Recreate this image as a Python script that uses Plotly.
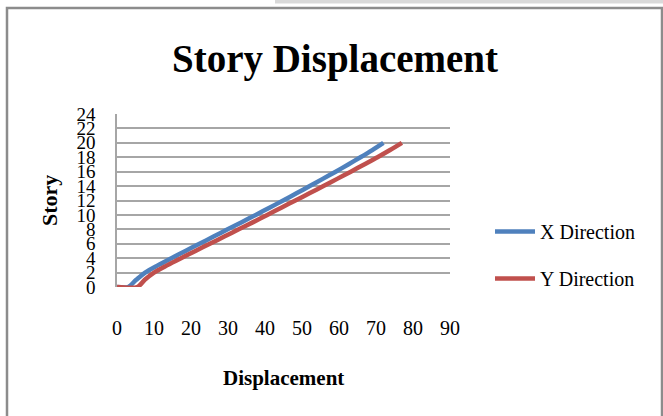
import plotly.graph_objects as go

# Data
story = [0, 0, 1, 2, 3, 4, 5, 6, 7, 8, 9, 10, 11, 12, 13, 14, 15, 16, 17, 18, 19, 20]
x_direction = [0, 3, 5.2, 7.6, 11, 14.7, 18.5, 22.3, 26.1, 29.9, 33.7, 37.5,
               41.2, 44.9, 48.5, 52.1, 55.6, 59.1, 62.5, 65.8, 69, 72]
y_direction = [0, 5.5, 7.5, 10, 13.5, 17.3, 21.2, 25.1, 29, 32.9, 36.8, 40.6,
               44.4, 48.2, 52, 55.8, 59.5, 63.2, 66.8, 70.4, 73.8, 77]
x_ticks = [0, 10, 20, 30, 40, 50, 60, 70, 80, 90]
y_ticks = [0, 2, 4, 6, 8, 10, 12, 14, 16, 18, 20, 22, 24]

W, H = 663, 416
L, R, T, B = 117, 450, 114, 287  # plot area pixel box


def px(xp):
    return (xp - L) / (R - L)


def py(yp):
    return (B - yp) / (B - T)


SERIF = "Liberation Serif, Times New Roman, serif"

fig = go.Figure()
fig.add_trace(go.Scatter(x=x_direction, y=story, mode="lines", name="X Direction",
                         line=dict(color="#4F81BD", width=4.5, shape="spline", smoothing=0.8),
                         legendgroup="a"))
fig.add_trace(go.Scatter(x=y_direction, y=story, mode="lines", name="Y Direction",
                         line=dict(color="#C0504D", width=4.5, shape="spline", smoothing=0.8),
                         legendgroup="b"))

fig.update_layout(
    width=W, height=H,
    margin=dict(l=L, r=W - R, t=T, b=H - B, autoexpand=False),
    paper_bgcolor="white", plot_bgcolor="white",
    font=dict(family=SERIF, color="black"),
    title=dict(text="<b>Story Displacement</b>", x=335 / W, xanchor="center",
               y=1 - 58 / H, yanchor="middle", yref="container",
               font=dict(family=SERIF, size=39, color="black")),
    legend=dict(x=px(490), y=py(255), xanchor="left", yanchor="middle",
                font=dict(family=SERIF, size=20, color="black"),
                tracegroupgap=18, itemwidth=40, bgcolor="rgba(0,0,0,0)"),
    showlegend=True,
)
fig.update_xaxes(range=[0, 90], tickvals=x_ticks, ticktext=[str(v) for v in x_ticks],
                 showgrid=False, zeroline=False, showline=False, ticks="",
                 ticklabelstandoff=27, tickfont=dict(family=SERIF, size=20, color="black"),
                 fixedrange=True)
fig.update_yaxes(range=[0, 24], tickvals=y_ticks, ticktext=[str(v) for v in y_ticks],
                 showgrid=True, gridcolor="#a6a6a6", gridwidth=1.6, zeroline=False,
                 showline=True, linecolor="#a6a6a6", linewidth=1.6, ticks="",
                 ticklabelstandoff=16, tickfont=dict(family=SERIF, size=19, color="black"),
                 fixedrange=True)

# axis titles as annotations
fig.add_annotation(text="<b>Displacement</b>", xref="paper", yref="paper",
                   x=px(283), y=py(378), xanchor="center", yanchor="middle", showarrow=False,
                   font=dict(family=SERIF, size=21, color="black"))
fig.add_annotation(text="<b>Story</b>", xref="paper", yref="paper",
                   x=px(49), y=py(201), xanchor="center", yanchor="middle", showarrow=False,
                   textangle=-90, font=dict(family=SERIF, size=22, color="black"))

# chart frame and top strip
fig.add_shape(type="rect", xref="paper", yref="paper",
              x0=px(7), x1=px(662), y0=py(422), y1=py(8),
              line=dict(color="#8c8c8c", width=2.5), fillcolor="rgba(0,0,0,0)", layer="below")
fig.add_shape(type="rect", xref="paper", yref="paper",
              x0=px(275), x1=px(665), y0=py(3.5), y1=py(-2),
              line=dict(width=0), fillcolor="#d9d9d9", layer="below")

fig.write_html("out.html", config={"displayModeBar": False},
               post_script="document.body.style.margin='0';document.body.style.overflow='hidden';")
